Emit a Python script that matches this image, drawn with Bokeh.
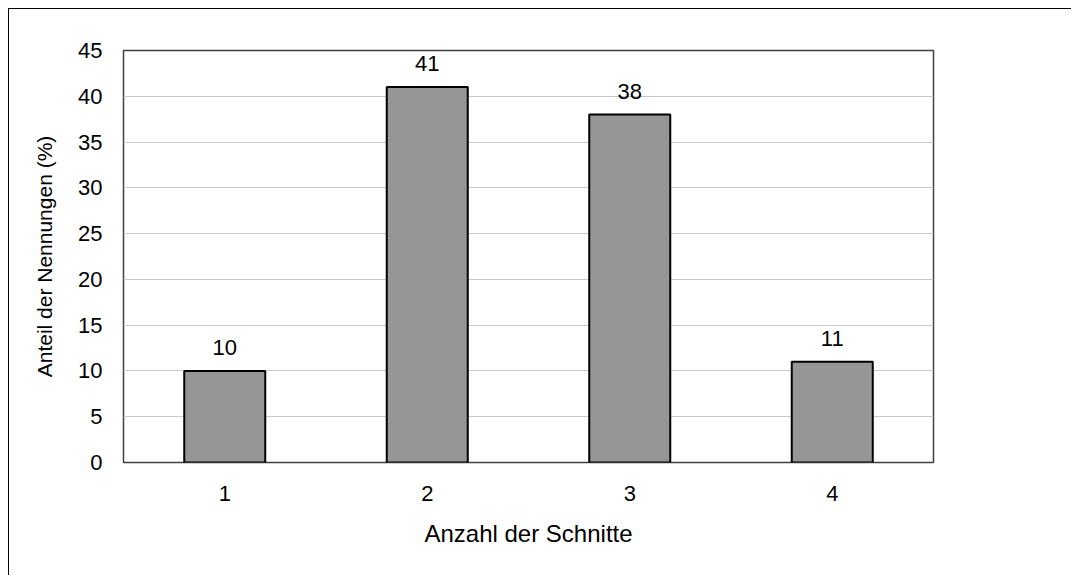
from bokeh.plotting import figure
from bokeh.models import ColumnDataSource, FactorRange, Range1d, FixedTicker, LabelSet
from bokeh.core.properties import value
from bokeh.embed import file_html
from bokeh.resources import INLINE

categories = ["1", "2", "3", "4"]
values = [10, 41, 38, 11]
labels = ["10", "41", "38", "11"]
y_ticks = [0, 5, 10, 15, 20, 25, 30, 35, 40, 45]

FONT = "Liberation Sans"

src = ColumnDataSource(dict(cat=categories, val=values, lab=labels))

p = figure(
    width=1063, height=567,
    x_range=FactorRange(*categories, range_padding=0),
    y_range=Range1d(0, 45),
    output_backend="svg", toolbar_location=None,
    min_border_left=114, min_border_right=139,
    min_border_top=41, min_border_bottom=114,
)
p.styles = {"border-left": "1px solid #000000", "border-top": "1px solid #000000",
            "margin-left": "8px", "margin-top": "8px"}

p.vbar(x="cat", top="val", width=0.4, source=src,
       fill_color="#969696", line_color="#000000", line_width=2)

p.add_layout(LabelSet(x="cat", y="val", text="lab", source=src,
                      text_align="center", text_baseline="bottom", y_offset=16,
                      text_font=value(FONT), text_font_size="22px", text_color="#000000"))

p.outline_line_color = "#404040"
p.outline_line_width = 1.5
p.xgrid.grid_line_color = None
p.ygrid.grid_line_color = "#c8c8c8"
p.ygrid.grid_line_width = 1

p.yaxis.ticker = FixedTicker(ticks=y_ticks)
for ax in (p.xaxis[0], p.yaxis[0]):
    ax.axis_line_color = None
    ax.major_tick_line_color = None
    ax.minor_tick_line_color = None
    ax.major_tick_in = 0
    ax.major_tick_out = 0
    ax.major_label_text_font = FONT
    ax.major_label_text_font_size = "22px"
    ax.major_label_text_color = "#000000"
    ax.axis_label_text_font = FONT
    ax.axis_label_text_font_style = "normal"
    ax.axis_label_text_color = "#000000"

p.xaxis.axis_label = "Anzahl der Schnitte"
p.yaxis.axis_label = "Anteil der Nennungen (%)"
p.xaxis.axis_label_text_font_size = "24px"
p.yaxis.axis_label_text_font_size = "21px"
p.xaxis.major_label_standoff = 23
p.yaxis.major_label_standoff = 21
p.xaxis.axis_label_standoff = 16
p.yaxis.axis_label_standoff = 19

open("out.html", "w").write(file_html(p, INLINE))
